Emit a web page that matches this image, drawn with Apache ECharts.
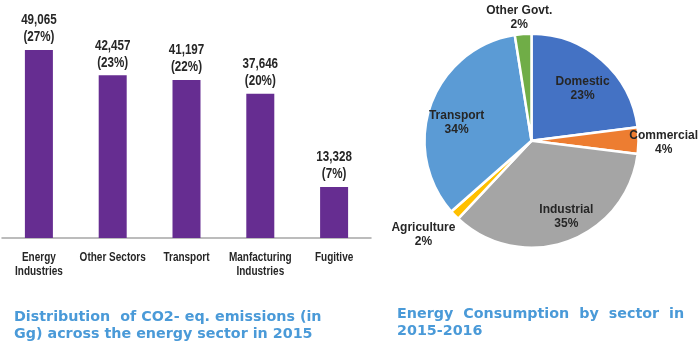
<!DOCTYPE html>
<html>
<head>
<meta charset="utf-8">
<script src="https://cdn.jsdelivr.net/npm/echarts@6/dist/echarts.min.js"></script>
<style>
html,body{margin:0;padding:0;background:#fff;}
#chart{width:700px;height:353px;}
</style>
</head>
<body>
<div id="chart"></div>
<script>
// bar chart: CO2-eq emissions (Gg), energy sector 2015
const barCategories=["Energy\nIndustries","Other Sectors","Transport","Manfacturing\nIndustries","Fugitive"];
const barValues=[49065,42457,41197,37646,13328];
const barShares=["27%","23%","22%","20%","7%"];

// pie chart: energy consumption by sector 2015-2016
const pieNames=["Domestic","Commercial","Industrial","Agriculture","Transport","Other Govt."];
const pieValues=[23,4,35,1.5,34,2.5];
const pieLabels=["23%","4%","35%","2%","34%","2%"];
const pieColors=["#4472C4","#ED7D31","#A5A5A5","#FFC000","#5B9BD5","#70AD47"];

const FONT="'Liberation Sans',Arial,sans-serif";
const TITLE_FONT="'DejaVu Sans',sans-serif";
const PIE_CX=531.5, PIE_CY=140.7;
// label placement: [push out from slice middle, turn in degrees]
const labelPlace={
    "Domestic":[1.285,3.3],
    "Commercial":[2.34,0.8],
    "Industrial":[1.48,-4.8],
    "Agriculture":[2.53,3.2],
    "Transport":[1.363,-6.5],
    "Other Govt.":[2.18,-1.2]
};

const chart=echarts.init(document.getElementById("chart"));

chart.setOption({
    animation:false,
    title:[
        {
            text:"Distribution  of CO2- eq. emissions (in\nGg) across the energy sector in 2015",
            left:9,
            top:304,
            textStyle:{
                fontFamily:TITLE_FONT,
                fontSize:14.3,
                fontWeight:"bold",
                color:"#4A9AD8",
                lineHeight:17
            }
        },
        {
            text:"Energy  Consumption  by  sector  in\n2015-2016",
            left:392,
            top:301,
            textStyle:{
                fontFamily:TITLE_FONT,
                fontSize:14.3,
                fontWeight:"bold",
                color:"#4A9AD8",
                lineHeight:17
            }
        }
    ],
    grid:{
        left:2,
        top:8,
        width:369,
        bottom:115
    },
    xAxis:{
        type:"category",
        data:barCategories,
        axisLine:{lineStyle:{color:"#A6A6A6",width:1.5}},
        axisTick:{show:false},
        axisLabel:{show:false}
    },
    yAxis:{
        type:"value",
        min:0,
        max:60000,
        show:false,
        splitLine:{show:false}
    },
    series:[
        {
            type:"bar",
            data:barValues,
            barWidth:28,
            itemStyle:{color:"#662D91"}
        },
        {
            // narrow bold labels: value on top, category below the axis
            type:"custom",
            silent:true,
            data:barValues.map((v,i)=>[i,v]),
            encode:{x:0,y:1},
            renderItem(params,api){
                const i=api.value(0);
                const v=api.value(1);
                const top=api.coord([i,v]);
                const base=api.coord([i,0]);
                return {
                    type:"group",
                    children:[
                        {
                            type:"text",
                            x:top[0],
                            y:top[1]-4,
                            scaleX:0.83,
                            style:{
                                text:v.toLocaleString("en-US")+"\n("+barShares[i]+")",
                                fontFamily:FONT,
                                fontSize:14,
                                fontWeight:"bold",
                                lineHeight:17,
                                fill:"#262626",
                                align:"center",
                                verticalAlign:"bottom"
                            }
                        },
                        {
                            type:"text",
                            x:base[0],
                            y:base[1]+12.5,
                            scaleX:0.77,
                            style:{
                                text:barCategories[i],
                                fontFamily:FONT,
                                fontSize:13,
                                fontWeight:"bold",
                                lineHeight:14,
                                fill:"#262626",
                                align:"center",
                                verticalAlign:"top"
                            }
                        }
                    ]
                };
            }
        },
        {
            type:"pie",
            center:[PIE_CX,PIE_CY],
            radius:[0,107],
            startAngle:90,
            clockwise:true,
            avoidLabelOverlap:false,
            data:pieNames.map((name,i)=>({
                name:name,
                value:pieValues[i],
                itemStyle:{color:pieColors[i]}
            })),
            itemStyle:{
                borderColor:"#fff",
                borderWidth:2.5
            },
            label:{
                show:true,
                position:"inside",
                fontFamily:FONT,
                fontSize:12,
                fontWeight:"bold",
                color:"#262626",
                lineHeight:14,
                formatter(p){
                    return p.name+"\n"+pieLabels[p.dataIndex];
                }
            },
            labelLine:{show:false},
            labelLayout(params){
                if(params.seriesIndex!==2){
                    return {};
                }
                const r=params.labelRect;
                const place=labelPlace[pieNames[params.dataIndex]];
                const ox=r.x+r.width/2-PIE_CX;
                const oy=r.y+r.height/2-PIE_CY;
                const a=place[1]*Math.PI/180;
                const nx=(ox*Math.cos(a)-oy*Math.sin(a))*place[0];
                const ny=(ox*Math.sin(a)+oy*Math.cos(a))*place[0];
                return {
                    dx:nx-ox,
                    dy:ny-oy
                };
            }
        }
    ]
});
</script>
</body>
</html>
